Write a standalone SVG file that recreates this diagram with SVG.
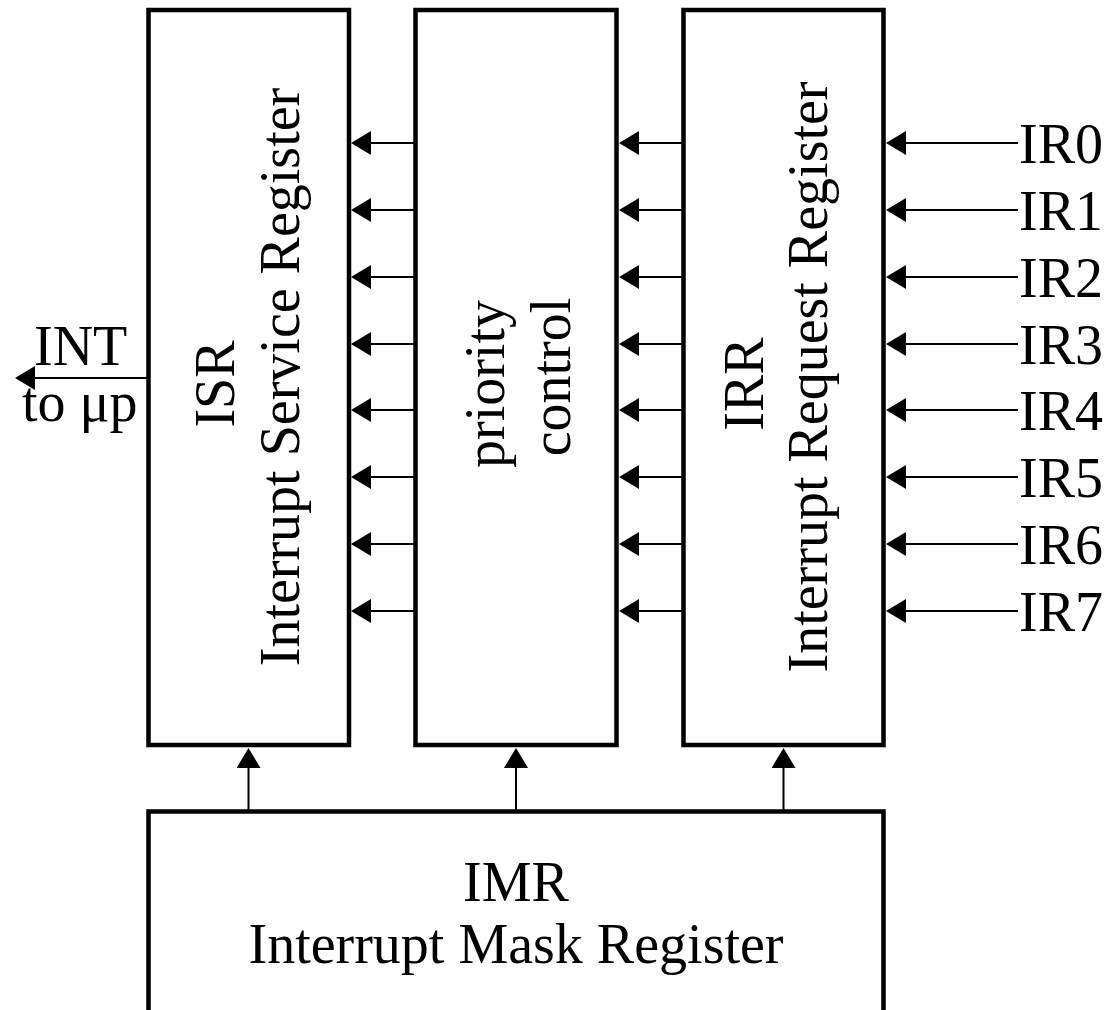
<svg xmlns="http://www.w3.org/2000/svg" width="1108" height="1010" viewBox="0 0 1108 1010">
  <style>
    .box { fill: #fff; stroke: #000; stroke-width: 4.5; }
    .wire { stroke: #000; stroke-width: 2; fill: none; marker-end: url(#ah); }
    .lbl { font-family: "Liberation Serif", "Times New Roman", serif; font-size: 56px; fill: #000; }
  </style>
  <defs>
    <marker id="ah" markerUnits="userSpaceOnUse" viewBox="0 -12 20 24" refX="0" refY="0" markerWidth="20" markerHeight="24" orient="auto">
      <path d="M0,-12 L20,0 L0,12 z" fill="#000"/>
    </marker>
  </defs>
  <rect width="1108" height="1010" fill="#fff"/>

  <!-- In-Service Register -->
  <g id="isr">
    <rect class="box" x="148.5" y="10" width="200.5" height="735"/>
    <text class="lbl" transform="translate(248.75,377) rotate(-90)" text-anchor="middle">
      <tspan x="0" y="-15">ISR</tspan>
      <tspan x="0" y="50">Interrupt Service Register</tspan>
    </text>
  </g>

  <!-- Priority resolver -->
  <g id="priority">
    <rect class="box" x="415.5" y="10" width="201" height="735"/>
    <text class="lbl" transform="translate(516,377) rotate(-90)" text-anchor="middle">
      <tspan x="0" y="-12">priority</tspan>
      <tspan x="0" y="54">control</tspan>
    </text>
  </g>

  <!-- Interrupt Request Register -->
  <g id="irr">
    <rect class="box" x="683.5" y="10" width="200" height="735"/>
    <text class="lbl" transform="translate(783.5,377) rotate(-90)" text-anchor="middle">
      <tspan x="0" y="-21">IRR</tspan>
      <tspan x="0" y="43">Interrupt Request Register</tspan>
    </text>
  </g>

  <!-- Interrupt Mask Register -->
  <g id="imr">
    <rect class="box" x="148.5" y="811.5" width="735" height="220"/>
    <text class="lbl" x="516" y="901" text-anchor="middle">IMR</text>
    <text class="lbl" x="516" y="963" text-anchor="middle">Interrupt Mask Register</text>
  </g>

  <!-- Input and output labels -->
  <g id="inputs" class="lbl">
    <text x="1019" y="163">IR0</text>
    <text x="1019" y="230">IR1</text>
    <text x="1019" y="297">IR2</text>
    <text x="1019" y="364">IR3</text>
    <text x="1019" y="430">IR4</text>
    <text x="1019" y="497">IR5</text>
    <text x="1019" y="564">IR6</text>
    <text x="1019" y="631">IR7</text>
  </g>
  <g id="int-out" class="lbl">
    <text x="34" y="365">INT</text>
    <text x="22" y="421">to μp</text>
  </g>

  <!-- Connectors -->
  <g id="connectors">
    <!-- IR inputs into IRR -->
    <path class="wire" d="M1018,143 H906"/>
    <path class="wire" d="M1018,210 H906"/>
    <path class="wire" d="M1018,277 H906"/>
    <path class="wire" d="M1018,344 H906"/>
    <path class="wire" d="M1018,410 H906"/>
    <path class="wire" d="M1018,477 H906"/>
    <path class="wire" d="M1018,544 H906"/>
    <path class="wire" d="M1018,611 H906"/>
    <!-- IRR to priority control -->
    <path class="wire" d="M682,143 H639"/>
    <path class="wire" d="M682,210 H639"/>
    <path class="wire" d="M682,277 H639"/>
    <path class="wire" d="M682,344 H639"/>
    <path class="wire" d="M682,410 H639"/>
    <path class="wire" d="M682,477 H639"/>
    <path class="wire" d="M682,544 H639"/>
    <path class="wire" d="M682,611 H639"/>
    <!-- priority control to ISR -->
    <path class="wire" d="M414,143 H371"/>
    <path class="wire" d="M414,210 H371"/>
    <path class="wire" d="M414,277 H371"/>
    <path class="wire" d="M414,344 H371"/>
    <path class="wire" d="M414,410 H371"/>
    <path class="wire" d="M414,477 H371"/>
    <path class="wire" d="M414,544 H371"/>
    <path class="wire" d="M414,611 H371"/>
    <!-- INT out to the processor -->
    <path class="wire" d="M147,378 H35"/>
    <!-- IMR mask lines -->
    <path class="wire" d="M248.5,810 V768"/>
    <path class="wire" d="M516,810 V768"/>
    <path class="wire" d="M783.5,810 V768"/>
  </g>
</svg>
